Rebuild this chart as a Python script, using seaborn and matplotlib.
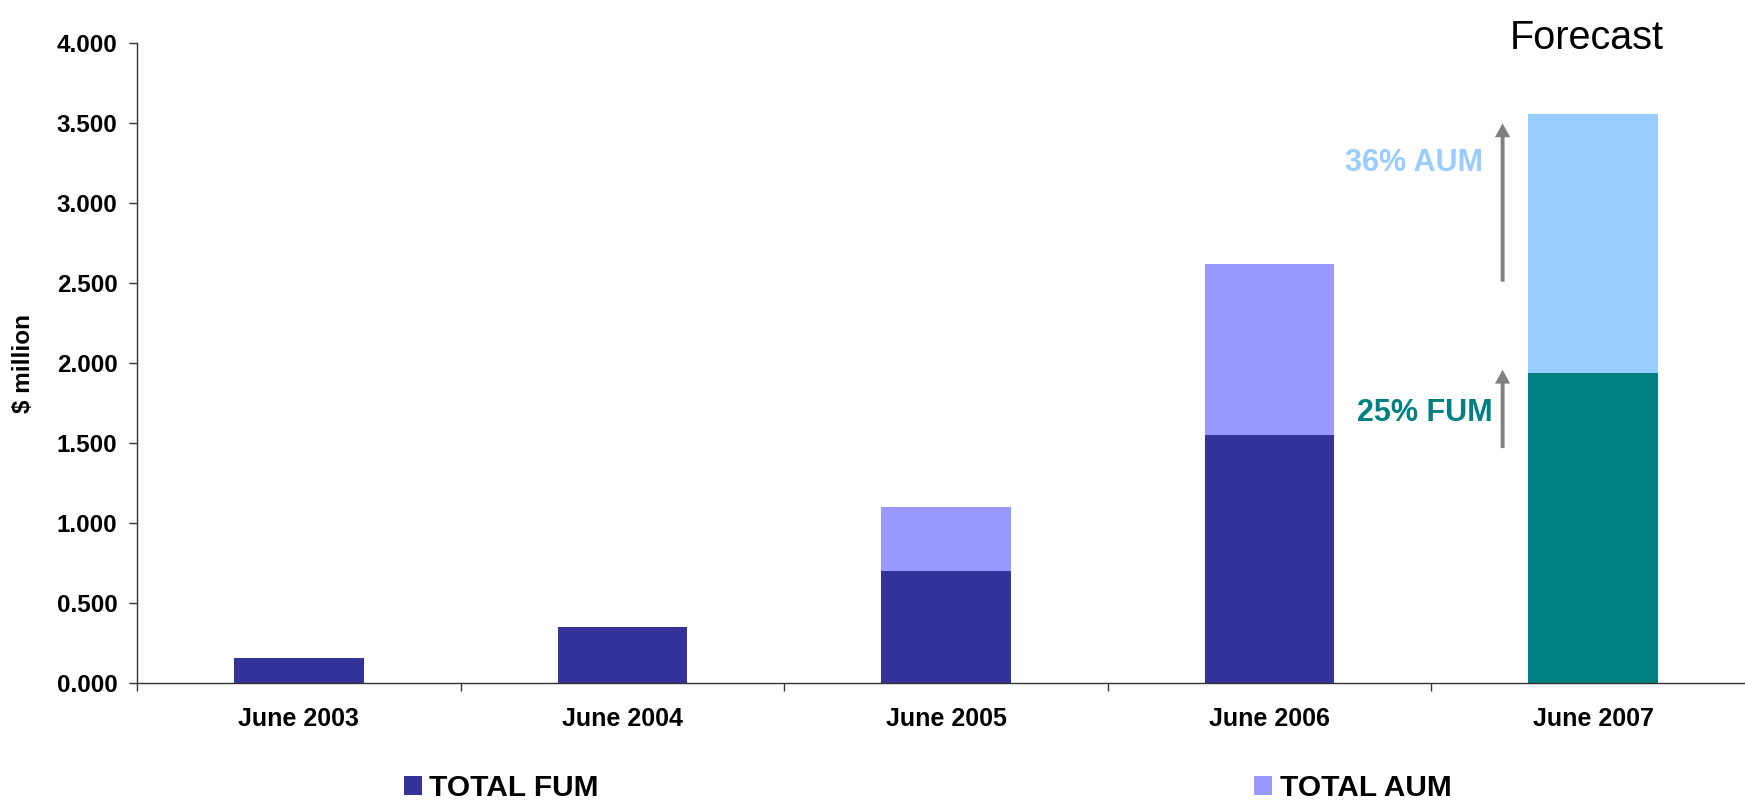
import matplotlib
matplotlib.use("Agg")
import matplotlib.pyplot as plt
import matplotlib.ticker as mticker
from matplotlib.patches import Patch
import seaborn as sns
import pandas as pd

# ---- data ($ million) ----
categories = ["June 2003", "June 2004", "June 2005", "June 2006", "June 2007"]
fum = [0.16, 0.35, 0.70, 1.55, 1.94]          # total funds under management
aum_extra = [0.00, 0.00, 0.40, 1.07, 1.62]    # additional assets under management
fum_colors = ["#333399", "#333399", "#333399", "#333399", "#008080"]
aum_colors = ["#9999FF", "#9999FF", "#9999FF", "#9999FF", "#99CCFF"]
y_ticks = [0.0, 0.5, 1.0, 1.5, 2.0, 2.5, 3.0, 3.5, 4.0]
legend_labels = ["TOTAL FUM", "TOTAL AUM"]
growth_aum_label = "36% AUM"
growth_fum_label = "25% FUM"

aum_total = [f + a for f, a in zip(fum, aum_extra)]
df = pd.DataFrame({"period": categories, "fum": fum, "aum_total": aum_total})

sns.set_theme(style="white", rc={"text.color": "black", "axes.labelcolor": "black",
                                 "xtick.color": "black", "ytick.color": "black"})
plt.rcParams["font.family"] = ["Liberation Sans", "DejaVu Sans"]

W, H = 1745, 805
fig = plt.figure(figsize=(W / 100, H / 100), dpi=100)
ax = fig.add_axes([137 / W, 1 - 683.3 / H, (1755 - 137) / W, 640 / H])

# stacked bars: full AUM height first, FUM drawn over it
sns.barplot(data=df, x="period", y="aum_total", hue="period",
            palette=aum_colors, width=0.4, legend=False, ax=ax,
            linewidth=0, saturation=1)
sns.barplot(data=df, x="period", y="fum", hue="period",
            palette=fum_colors, width=0.4, legend=False, ax=ax,
            linewidth=0, saturation=1)

ax.set_xlim(-0.5, len(categories) - 0.5)
ax.set_ylim(0, 4.0)
ax.set_xlabel("")
ax.set_ylabel("")

# y axis
ax.set_yticks(y_ticks)
ax.yaxis.set_major_formatter(mticker.FormatStrFormatter("%.3f"))
ax.tick_params(axis="y", which="major", direction="out", length=6, width=1,
               color="#333333", pad=8, labelsize=17.5, left=True,
               labelcolor="black")
for lbl in ax.get_yticklabels():
    lbl.set_fontweight("bold")

# x axis: ticks on category boundaries, labels at centres
ax.set_xticks([i - 0.5 for i in range(len(categories) + 1)])
ax.set_xticklabels([])
ax.set_xticks(range(len(categories)), minor=True)
ax.set_xticklabels(categories, minor=True, fontsize=18, fontweight="bold",
                   color="black")
ax.tick_params(axis="x", which="major", direction="out", length=6, width=1,
               color="#333333", bottom=True)
ax.tick_params(axis="x", which="minor", length=0, pad=17)

for side in ("top", "right"):
    ax.spines[side].set_visible(False)
for side in ("left", "bottom"):
    ax.spines[side].set_color("#333333")
    ax.spines[side].set_linewidth(1.0)
ax.grid(False)

# growth arrows and labels
arrow_x = 3.72
arrow_kw = dict(facecolor="#808080", edgecolor="none", width=2.8,
                headwidth=11, headlength=10, shrink=0)
ax.annotate("", xy=(arrow_x, 3.50), xytext=(arrow_x, 2.51), arrowprops=arrow_kw)
ax.annotate("", xy=(arrow_x, 1.96), xytext=(arrow_x, 1.47), arrowprops=arrow_kw)
ax.text(3.66, 3.25, growth_aum_label, ha="right", va="center", fontsize=22,
        fontweight="bold", color="#99CCFF")
ax.text(3.69, 1.69, growth_fum_label, ha="right", va="center", fontsize=22,
        fontweight="bold", color="#008080")

# axis title and forecast heading
fig.text(24 / W, 1 - 363 / H, "$ million", rotation=90, ha="center",
         va="center", fontsize=17.5, fontweight="bold", color="black")
fig.text(1510 / W, 1 - 49 / H, "Forecast", ha="left", va="baseline",
         fontsize=28.5, color="black")

# legend along the bottom
handles = [Patch(facecolor=fum_colors[0], edgecolor="none"),
           Patch(facecolor=aum_colors[0], edgecolor="none")]
leg = fig.legend(handles, legend_labels, ncol=2, loc="lower left",
                 bbox_to_anchor=(404 / W, 1 - 802 / H), frameon=False,
                 prop={"weight": "bold", "size": 21.5},
                 handlelength=0.6, handleheight=0.6, handletextpad=0.25,
                 columnspacing=21.95, borderpad=0, borderaxespad=0)
for t in leg.get_texts():
    t.set_color("black")

fig.savefig("out.png", dpi=100)
